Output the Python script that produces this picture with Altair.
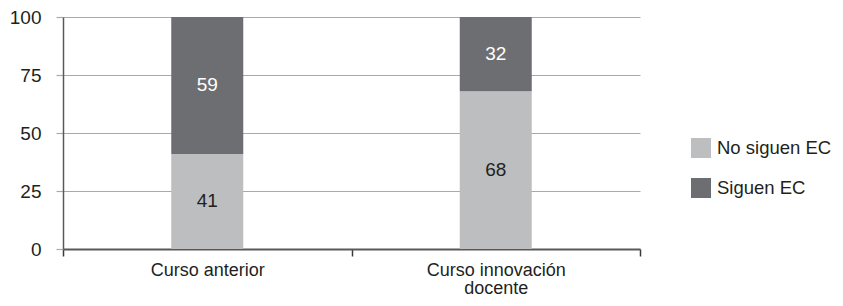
import altair as alt
import pandas as pd

categories = ["Curso anterior", "Curso innovación docente"]
series = ["No siguen EC", "Siguen EC"]
no_siguen = [41, 68]
siguen = [59, 32]
y_ticks = [0, 25, 50, 75, 100]
colors = ["#BCBEC0", "#6D6E71"]

rows = []
for i, c in enumerate(categories):
    rows.append({"curso": c, "grupo": series[0], "valor": no_siguen[i], "orden": 0})
    rows.append({"curso": c, "grupo": series[1], "valor": siguen[i], "orden": 1})
df = pd.DataFrame(rows)

FONT = "Liberation Sans"
FS = 19

x_enc = alt.X(
    "curso:N",
    sort=categories,
    title=None,
    scale=alt.Scale(paddingInner=0, paddingOuter=0),
    axis=alt.Axis(
        labelAngle=0,
        tickBand="extent",
        tickSize=7,
        tickColor="#3A3A3C",
        tickWidth=1.5,
        domainColor="#58595B",
        domainWidth=2,
        labelFont=FONT,
        labelFontSize=18,
        labelColor="#231F20",
        labelPadding=5,
        labelLineHeight=18.5,
        labelBaseline="top",
        labelExpr="datum.value == 'Curso innovación docente' ? ['Curso innovación', 'docente'] : datum.value",
    ),
)

bars = alt.Chart(df).mark_bar(size=72).encode(
    x=x_enc,
    y=alt.Y(
        "valor:Q",
        stack="zero",
        title=None,
        scale=alt.Scale(domain=[0, 100], nice=False),
        axis=alt.Axis(
            values=y_ticks,
            grid=True,
            gridColor="#A7A9AC",
            gridWidth=1.2,
            domainColor="#58595B",
            domainWidth=1.5,
            tickColor="#A7A9AC",
            tickSize=7,
            tickWidth=1.2,
            labelFont=FONT,
            labelFontSize=FS,
            labelColor="#231F20",
            labelPadding=15,
        ),
    ),
    color=alt.Color(
        "grupo:N",
        sort=series,
        scale=alt.Scale(domain=series, range=colors),
        legend=alt.Legend(
            title=None,
            orient="none",
            legendX=628,
            legendY=121,
            symbolType="square",
            symbolSize=400,
            symbolStrokeWidth=0,
            symbolOpacity=1,
            labelFont=FONT,
            labelFontSize=18.5,
            labelColor="#231F20",
            labelOffset=6,
            rowPadding=20,
        ),
    ),
    order=alt.Order("orden:Q"),
)

texts = (
    alt.Chart(df)
    .transform_stack(
        stack="valor",
        groupby=["curso"],
        as_=["y0", "y1"],
        sort=[alt.SortField("orden", order="ascending")],
    )
    .transform_calculate(mid="(datum.y0 + datum.y1) / 2")
    .mark_text(font=FONT, fontSize=FS, baseline="middle", align="center")
    .encode(
        x=alt.X("curso:N", sort=categories),
        y=alt.Y("mid:Q"),
        text=alt.Text("valor:Q"),
        color=alt.condition(
            alt.datum.grupo == "Siguen EC", alt.value("#FFFFFF"), alt.value("#231F20")
        ),
    )
)

chart = (
    alt.layer(bars, texts)
    .properties(
        width=577,
        height=232,
        autosize=alt.AutoSizeParams(type="none"),
        padding={"left": 55, "top": 9, "right": 195, "bottom": 49},
    )
    .configure_view(stroke=None)
)

chart.save("out.html", embed_options={"renderer": "svg", "actions": False})
